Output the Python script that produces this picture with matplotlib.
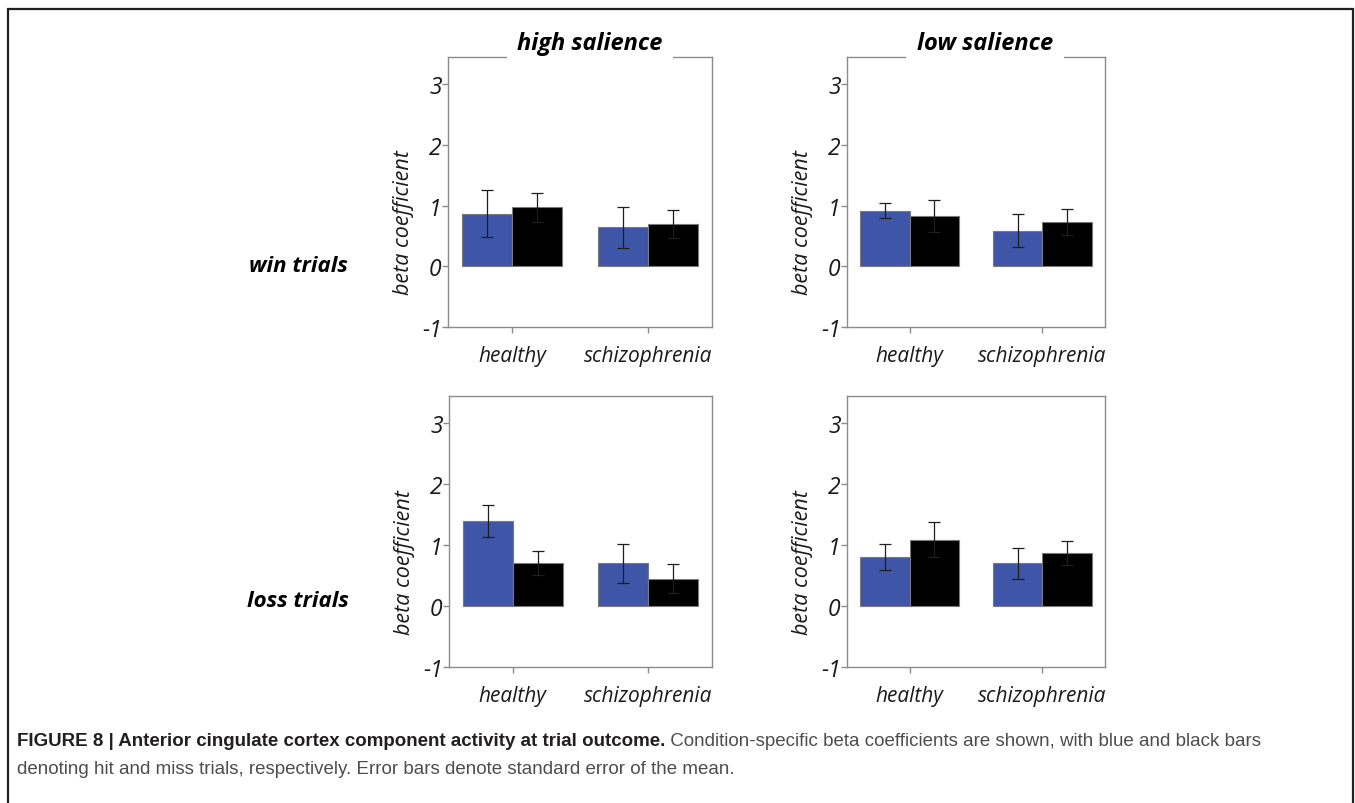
import matplotlib.pyplot as plt
import numpy as np

# ---------------- data ----------------
groups = ['healthy', 'schizophrenia']
salience = ['high salience', 'low salience']
outcomes = ['win trials', 'loss trials']
y_ticks = [-1, 0, 1, 2, 3]

# blue = hit, black = miss ; values are [healthy, schizophrenia]
win_high_hit = [0.87, 0.64]
win_high_hit_se = [0.39, 0.34]
win_high_miss = [0.97, 0.70]
win_high_miss_se = [0.24, 0.23]

win_low_hit = [0.92, 0.59]
win_low_hit_se = [0.13, 0.27]
win_low_miss = [0.83, 0.73]
win_low_miss_se = [0.26, 0.21]

loss_high_hit = [1.40, 0.70]
loss_high_hit_se = [0.26, 0.32]
loss_high_miss = [0.71, 0.45]
loss_high_miss_se = [0.20, 0.24]

loss_low_hit = [0.81, 0.70]
loss_low_hit_se = [0.21, 0.25]
loss_low_miss = [1.09, 0.87]
loss_low_miss_se = [0.29, 0.20]

panels = [
    [(win_high_hit, win_high_hit_se, win_high_miss, win_high_miss_se),
     (win_low_hit, win_low_hit_se, win_low_miss, win_low_miss_se)],
    [(loss_high_hit, loss_high_hit_se, loss_high_miss, loss_high_miss_se),
     (loss_low_hit, loss_low_hit_se, loss_low_miss, loss_low_miss_se)],
]

# ---------------- style ----------------
W, H = 1355, 804
BLUE = '#3f56a8'
SPINE = '#8c8c8c'
TXT = 'Open Sans'

fig = plt.figure(figsize=(W / 100, H / 100), dpi=100)


def px_axes(left, top, right, bottom):
    # axes from pixel box (origin top left)
    return fig.add_axes([left / W, 1 - bottom / H, (right - left) / W, (bottom - top) / H])


# pixel boxes of the four panels
boxes = [[(448, 58, 712, 328), (847, 58, 1105, 328)],
         [(449, 397, 712, 668), (847, 397, 1105, 668)]]
title_dx = [0.038, 0.035]

x = np.arange(len(groups))
bw = 0.37

for r in range(2):
    for c in range(2):
        hit, hit_se, miss, miss_se = panels[r][c]
        ax = px_axes(*boxes[r][c])
        ekw = dict(ecolor='#1e1e1e', elinewidth=0.9, capsize=4.5, capthick=0.9)
        ax.bar(x - bw / 2, hit, bw, color=BLUE, edgecolor='#7a7a7a', linewidth=0.8,
               yerr=hit_se, error_kw=ekw, zorder=2)
        ax.bar(x + bw / 2, miss, bw, color='black', edgecolor='#7a7a7a', linewidth=0.8,
               yerr=miss_se, error_kw=ekw, zorder=2)

        ax.set_xlim(-0.47, 1.47)
        ax.set_ylim(-1, 3.45)
        ax.set_yticks(y_ticks)
        ax.set_yticklabels([str(t) for t in y_ticks], fontsize=16.5, style='italic',
                           family=TXT, color='#1a1a1a')
        ax.set_xticks(x)
        ax.set_xticklabels(groups, fontsize=15, style='italic', family=TXT, color='#1a1a1a')
        ax.tick_params(axis='y', length=4, width=1, color=SPINE, pad=0.5)
        ax.tick_params(axis='x', length=4, width=1, color=SPINE, pad=9)
        for s in ax.spines.values():
            s.set_color(SPINE)
            s.set_linewidth(1)

        ax.set_ylabel('beta coefficient', fontsize=15.5, style='italic', family=TXT,
                      color='#1a1a1a')
        ax.yaxis.set_label_coords(-0.13, 0.39)

        if r == 0:
            ax.text(0.5 + title_dx[c], 1.052, salience[c], transform=ax.transAxes,
                    ha='center', va='center', fontsize=17, fontweight='bold',
                    style='italic', family=TXT, color='black', clip_on=False, zorder=5,
                    bbox=dict(facecolor='white', edgecolor='none', boxstyle='square,pad=0.45'))

# row labels
for lab, yy in zip(outcomes, [267, 602]):
    fig.text(298 / W, 1 - yy / H, lab, ha='center', va='center', fontsize=16,
             fontweight='bold', style='italic', family=TXT, color='black')

# overlay for border and caption
bg = fig.add_axes([0, 0, 1, 1], zorder=-1)
bg.set_xlim(0, W)
bg.set_ylim(H, 0)
bg.axis('off')
bg.plot([8, 8, 1353, 1353], [H, 10, 10, H], color='#231f20', lw=1.6,
        solid_joinstyle='miter')

cap_font = ['Liberation Sans', 'DejaVu Sans']
bold = bg.text(17, 746, 'FIGURE 8 | Anterior cingulate cortex component activity at trial outcome.',
               fontsize=13.5, fontweight='bold', family=cap_font, color='#231f20', va='baseline')
bg.annotate(' Condition-specific beta coefficients are shown, with blue and black bars',
            xy=(1, 0), xycoords=bold, va='bottom', fontsize=13.5, family=cap_font,
            color='#4d4d4d')
bg.text(17, 774, 'denoting hit and miss trials, respectively. Error bars denote standard error of the mean.',
        fontsize=13.5, family=cap_font, color='#4d4d4d', va='baseline')

fig.savefig('out.png', dpi=100, facecolor='white')
